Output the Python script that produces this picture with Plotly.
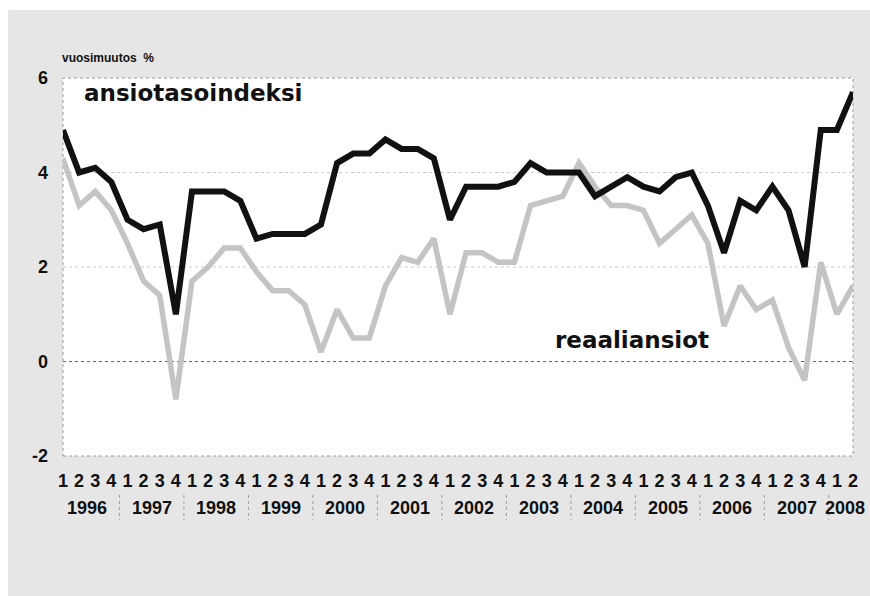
import plotly.graph_objects as go

years = [1996, 1997, 1998, 1999, 2000, 2001, 2002, 2003, 2004, 2005, 2006, 2007, 2008]
quarters_per_year = [4, 4, 4, 4, 4, 4, 4, 4, 4, 4, 4, 4, 2]

ansiotasoindeksi = [
    4.9, 4.0, 4.1, 3.8,
    3.0, 2.8, 2.9, 1.0,
    3.6, 3.6, 3.6, 3.4,
    2.6, 2.7, 2.7, 2.7,
    2.9, 4.2, 4.4, 4.4,
    4.7, 4.5, 4.5, 4.3,
    3.0, 3.7, 3.7, 3.7,
    3.8, 4.2, 4.0, 4.0,
    4.0, 3.5, 3.7, 3.9,
    3.7, 3.6, 3.9, 4.0,
    3.3, 2.3, 3.4, 3.2,
    3.7, 3.2, 2.0, 4.9,
    4.9, 5.7,
]
reaaliansiot = [
    4.3, 3.3, 3.6, 3.2,
    2.5, 1.7, 1.4, -0.8,
    1.7, 2.0, 2.4, 2.4,
    1.9, 1.5, 1.5, 1.2,
    0.2, 1.1, 0.5, 0.5,
    1.6, 2.2, 2.1, 2.6,
    1.0, 2.3, 2.3, 2.1,
    2.1, 3.3, 3.4, 3.5,
    4.2, 3.7, 3.3, 3.3,
    3.2, 2.5, 2.8, 3.1,
    2.5, 0.75, 1.6, 1.1,
    1.3, 0.3, -0.4, 2.1,
    1.0, 1.6,
]
y_ticks = [-2, 0, 2, 4, 6]

# build x positions and quarter labels
xs, qlabels = [], []
year_starts = []
i = 0
for y, n in zip(years, quarters_per_year):
    year_starts.append(i)
    for q in range(1, n + 1):
        xs.append(i)
        qlabels.append(str(q))
        i += 1

cond = "Liberation Sans, Arial, sans-serif"
heavy = "DejaVu Sans, Arial Black, sans-serif"

fig = go.Figure()
fig.add_trace(go.Scatter(x=xs, y=reaaliansiot, mode="lines",
                         line=dict(color="#c4c4c4", width=5.5), hoverinfo="skip",
                         showlegend=False))
fig.add_trace(go.Scatter(x=xs, y=ansiotasoindeksi, mode="lines",
                         line=dict(color="#111111", width=6), hoverinfo="skip",
                         showlegend=False))

shapes = []
# grey background panel
shapes.append(dict(type="rect", xref="paper", yref="paper", x0=-0.0694, x1=1.06,
                   y0=-0.45, y1=1.18, fillcolor="#e6e6e6", line=dict(width=0),
                   layer="below"))
# white plot area
shapes.append(dict(type="rect", xref="paper", yref="paper", x0=0, x1=1, y0=0, y1=1,
                   fillcolor="white", line=dict(color="#9a9a9a", width=1, dash="dot"),
                   layer="below"))
# gridlines
for v in [2, 4]:
    shapes.append(dict(type="line", xref="paper", yref="y", x0=0, x1=1, y0=v, y1=v,
                       line=dict(color="#cccccc", width=1, dash="dot"), layer="below"))
shapes.append(dict(type="line", xref="paper", yref="y", x0=0, x1=1, y0=0, y1=0,
                   line=dict(color="#666666", width=1, dash="dot"), layer="below"))
# year separators
for s in year_starts[1:]:
    shapes.append(dict(type="line", xref="x", yref="paper", x0=s - 0.5, x1=s - 0.5,
                       y0=-0.103, y1=-0.169, line=dict(color="#9a9a9a", width=1, dash="dot")))

annotations = []
for y, s, n in zip(years, year_starts, quarters_per_year):
    annotations.append(dict(x=s + (n - 1) / 2, y=-0.1376, xref="x", yref="paper",
                            text="<b>%d</b>" % y, showarrow=False, yanchor="middle",
                            font=dict(family=cond, size=18, color="#111111")))
annotations.append(dict(x=-0.004, y=1.029, xref="paper", yref="paper", xanchor="left",
                        yanchor="bottom", text="<b>vuosimuutos  %</b>", showarrow=False,
                        font=dict(family=cond, size=12, color="#111111")))
annotations.append(dict(x=1.18, y=5.68, xref="x", yref="y", xanchor="left",
                        yanchor="middle",
                        text="<b>ansiotasoindeksi</b>", showarrow=False,
                        font=dict(family=heavy, size=23, color="#111111")))
annotations.append(dict(x=30.4, y=0.45, xref="x", yref="y", xanchor="left",
                        yanchor="middle",
                        text="<b>reaaliansiot</b>", showarrow=False,
                        font=dict(family=heavy, size=23, color="#111111")))

fig.update_layout(
    width=870, height=596,
    margin=dict(l=63, r=15, t=78, b=140),
    paper_bgcolor="white", plot_bgcolor="rgba(0,0,0,0)",
    shapes=shapes, annotations=annotations,
    xaxis=dict(range=[0, len(xs) - 1], tickmode="array", tickvals=xs,
               ticktext=["<b>%s</b>" % q for q in qlabels],
               showgrid=False, zeroline=False, showline=False, ticks="",
               tickfont=dict(family=cond, size=18, color="#111111"), ticklabelstandoff=12),
    yaxis=dict(range=[-2, 6], tickmode="array", tickvals=y_ticks,
               ticktext=["<b>%d</b>" % v for v in y_ticks],
               showgrid=False, zeroline=False, showline=False, ticks="",
               tickfont=dict(family=cond, size=18, color="#111111"), ticklabelstandoff=14),
)

fig.write_html("out.html", config={"displayModeBar": False},
               post_script="document.body.style.margin='0';document.body.style.overflow='hidden';")
